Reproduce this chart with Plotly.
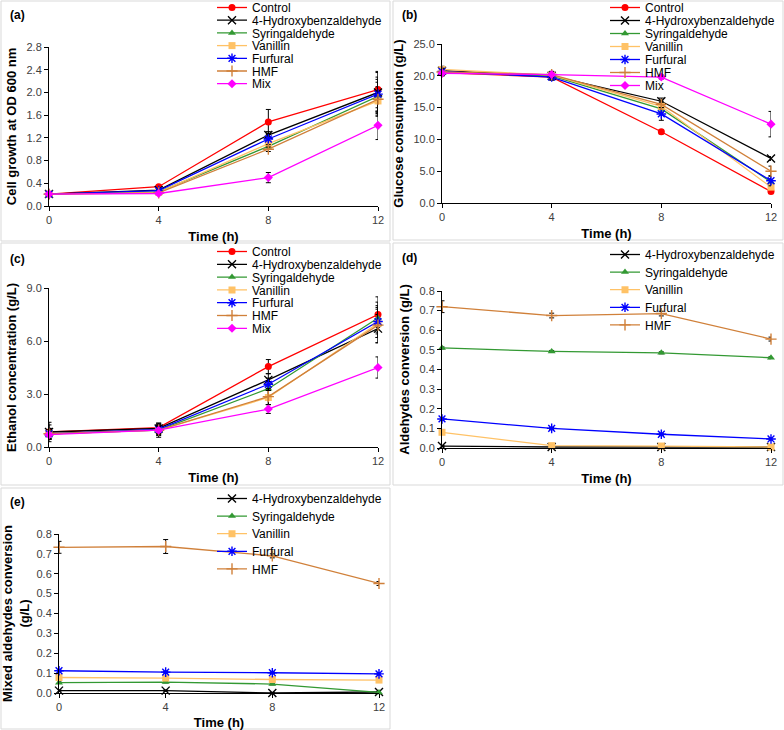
import plotly.graph_objects as go

W, H = 784, 730

time_h = [0, 4, 8, 12]
names_all = ["Control", "4-Hydroxybenzaldehyde", "Syringaldehyde", "Vanillin",
             "Furfural", "HMF", "Mix"]
names_ald = ["4-Hydroxybenzaldehyde", "Syringaldehyde", "Vanillin", "Furfural", "HMF"]

# (a) cell growth at OD 600 nm
growth = [
    [0.21, 0.34, 1.48, 2.05],
    [0.21, 0.28, 1.25, 2.00],
    [0.21, 0.25, 1.05, 1.93],
    [0.21, 0.24, 1.10, 1.85],
    [0.21, 0.27, 1.18, 1.97],
    [0.21, 0.23, 1.00, 1.88],
    [0.21, 0.22, 0.50, 1.42],
]
growth_err = [
    [0.02, 0.03, 0.22, 0.32],
    [0.02, 0.02, 0.06, 0.35],
    [0.02, 0.02, 0.05, 0.30],
    [0.02, 0.02, 0.05, 0.25],
    [0.02, 0.02, 0.10, 0.30],
    [0.02, 0.02, 0.04, 0.30],
    [0.02, 0.02, 0.09, 0.25],
]

# (b) glucose consumption (g/L)
glucose = [
    [20.5, 19.8, 11.2, 1.8],
    [20.8, 20.0, 16.0, 7.0],
    [20.5, 20.0, 14.8, 3.3],
    [21.0, 20.1, 15.2, 2.5],
    [20.7, 19.8, 14.0, 3.5],
    [20.6, 20.2, 15.5, 5.0],
    [20.4, 20.2, 19.8, 12.4],
]
glucose_err = [
    [0.5, 0.3, 0.3, 0.3],
    [0.6, 0.5, 0.5, 0.3],
    [0.5, 0.5, 0.5, 0.5],
    [0.5, 0.5, 0.5, 0.3],
    [0.5, 0.5, 1.0, 0.8],
    [0.5, 0.5, 0.5, 0.8],
    [0.3, 0.3, 0.3, 2.0],
]

# (c) ethanol concentration (g/L)
ethanol = [
    [0.85, 1.10, 4.55, 7.50],
    [0.85, 1.05, 3.80, 6.70],
    [0.75, 0.95, 3.30, 7.30],
    [0.75, 0.95, 2.80, 7.00],
    [0.75, 1.00, 3.55, 7.10],
    [0.75, 0.95, 2.85, 6.90],
    [0.70, 0.95, 2.15, 4.50],
]
ethanol_err = [
    [0.55, 0.25, 0.40, 1.00],
    [0.40, 0.25, 0.35, 0.80],
    [0.30, 0.40, 0.40, 0.90],
    [0.30, 0.30, 0.40, 0.80],
    [0.30, 0.25, 0.35, 0.90],
    [0.30, 0.25, 0.45, 1.00],
    [0.20, 0.20, 0.25, 0.60],
]

# (d) aldehydes conversion (g/L)
conv = [
    [0.010, 0.005, 0.005, 0.005],
    [0.510, 0.492, 0.485, 0.460],
    [0.080, 0.012, 0.010, 0.005],
    [0.148, 0.100, 0.070, 0.046],
    [0.720, 0.675, 0.685, 0.555],
]
conv_err = [
    [0.003, 0.003, 0.003, 0.003],
    [0.005, 0.005, 0.005, 0.005],
    [0.005, 0.003, 0.003, 0.003],
    [0.005, 0.005, 0.005, 0.005],
    [0.030, 0.012, 0.012, 0.010],
]

# (e) mixed aldehydes conversion (g/L)
mixconv = [
    [0.012, 0.012, 0.000, 0.005],
    [0.052, 0.055, 0.045, 0.003],
    [0.078, 0.075, 0.068, 0.065],
    [0.112, 0.105, 0.102, 0.096],
    [0.733, 0.737, 0.690, 0.551],
]
mixconv_err = [
    [0.003, 0.003, 0.003, 0.003],
    [0.004, 0.004, 0.004, 0.003],
    [0.003, 0.003, 0.003, 0.003],
    [0.004, 0.004, 0.004, 0.004],
    [0.030, 0.035, 0.010, 0.010],
]

style = {
    "Control": ("#ff0000", "circle"),
    "4-Hydroxybenzaldehyde": ("#000000", "x-thin-open"),
    "Syringaldehyde": ("#339933", "triangle-up"),
    "Vanillin": ("#ffc266", "square"),
    "Furfural": ("#0000ff", "asterisk-open"),
    "HMF": ("#d0803a", "cross-thin-open"),
    "Mix": ("#ff00ff", "diamond"),
}

FONT = "Arial, Liberation Sans, sans-serif"


def xdom(a, b):
    return [a / W, b / W]


def ydom(top, bottom):
    return [1 - bottom / H, 1 - top / H]


# suffix, x-domain px, y-domain px, y max, dtick, y title, data, errors, names,
# label pos, legend (left, first row centre, row step), border rect
panels = [
    ("", (49, 378), (47, 206), 2.8, 0.4, "Cell growth at OD 600 nm",
     growth, growth_err, names_all, "(a)", (8, 15), (212, 9, 12.7), (1, 1, 390, 241)),
    ("2", (442, 771), (44, 203), 25, 5, "Glucose consumption (g/L)",
     glucose, glucose_err, names_all, "(b)", (400, 15), (605, 9, 13), (393, 1, 783, 240)),
    ("3", (49, 378), (288, 447), 9, 3, "Ethanol concentration (g/L)",
     ethanol, ethanol_err, names_all, "(c)", (8, 259), (212, 253, 12.8), (1, 243, 390, 485)),
    ("4", (442, 771), (291, 448), 0.8, 0.1, "Aldehydes conversion (g/L)",
     conv, conv_err, names_ald, "(d)", (400, 258), (605, 256, 17.6), (393, 243, 783, 485)),
    ("5", (59, 379), (534, 693), 0.8, 0.1, "Mixed aldehydes conversion<br>(g/L)",
     mixconv, mixconv_err, names_ald, "(e)", (8, 502), (212, 500, 17.6), (1, 488, 390, 729)),
]

fig = go.Figure()
layout = dict(
    width=W, height=H,
    margin=dict(l=0, r=0, t=0, b=0, autoexpand=False),
    paper_bgcolor="white", plot_bgcolor="rgba(0,0,0,0)",
    font=dict(family=FONT, size=11, color="#000000"),
    showlegend=True,
    shapes=[], annotations=[],
)

k = 0
for (sfx, xpx, ypx, ymax, dtick, ytitle, vals, errs, names,
     label, lpos, legpos, rect) in panels:
    xa = "x" + sfx
    ya = "y" + sfx
    for i, (name, v, e) in enumerate(zip(names, vals, errs)):
        k += 1
        leg = "legend" if k == 1 else "legend%d" % k
        color, symbol = style[name]
        open_sym = symbol.endswith("open")
        fig.add_trace(go.Scatter(
            x=time_h, y=v, name=name, mode="lines+markers",
            xaxis=xa, yaxis=ya, legend=leg, cliponaxis=False,
            line=dict(color=color, width=1.3),
            marker=dict(symbol=symbol, size=8 if open_sym else 7, color=color,
                        line=dict(color=color, width=1.4 if open_sym else 0)),
            error_y=dict(type="data", array=e, color="#000000",
                         thickness=1, width=2.5),
        ))
        # one legend box per entry so rows can sit as close as in the original
        top = legpos[1] + i * legpos[2] - 16
        layout[leg] = dict(
            x=legpos[0] / W, y=1 - top / H, xanchor="left", yanchor="top",
            bgcolor="rgba(0,0,0,0)", borderwidth=0,
            font=dict(size=12, color="#000000"), itemwidth=30,
        )
    layout["xaxis" + sfx] = dict(
        domain=xdom(*xpx), anchor=ya, range=[0, 12],
        tickvals=time_h, ticks="outside", ticklen=4, tickcolor="#000000",
        showline=True, linecolor="#000000", linewidth=1,
        showgrid=False, zeroline=False,
        tickfont=dict(size=11, color="#404040"),
        title=dict(text="<b>Time (h)</b>", font=dict(size=13), standoff=6),
    )
    layout["yaxis" + sfx] = dict(
        domain=ydom(*ypx), anchor=xa, range=[0, ymax], dtick=dtick,
        tickformat=".1f", ticks="outside", ticklen=4, tickcolor="#000000",
        showline=True, linecolor="#000000", linewidth=1,
        showgrid=False, zeroline=False,
        tickfont=dict(size=11, color="#404040"),
        title=dict(text="<b>" + ytitle + "</b>", font=dict(size=13), standoff=6),
    )
    layout["annotations"].append(dict(
        text="<b>" + label + "</b>", xref="paper", yref="paper",
        x=lpos[0] / W, y=1 - lpos[1] / H, xanchor="left", yanchor="middle",
        showarrow=False, font=dict(size=12, color="#000000"),
    ))
    layout["shapes"].append(dict(
        type="rect", xref="paper", yref="paper", layer="below",
        x0=rect[0] / W, x1=rect[2] / W, y0=1 - rect[3] / H, y1=1 - rect[1] / H,
        line=dict(color="#d9d9d9", width=1), fillcolor="rgba(0,0,0,0)",
    ))

fig.update_layout(**layout)
fig.write_html("out.html", config={"displayModeBar": False},
               post_script="document.body.style.margin='0';"
                           "document.body.style.overflow='hidden';")
